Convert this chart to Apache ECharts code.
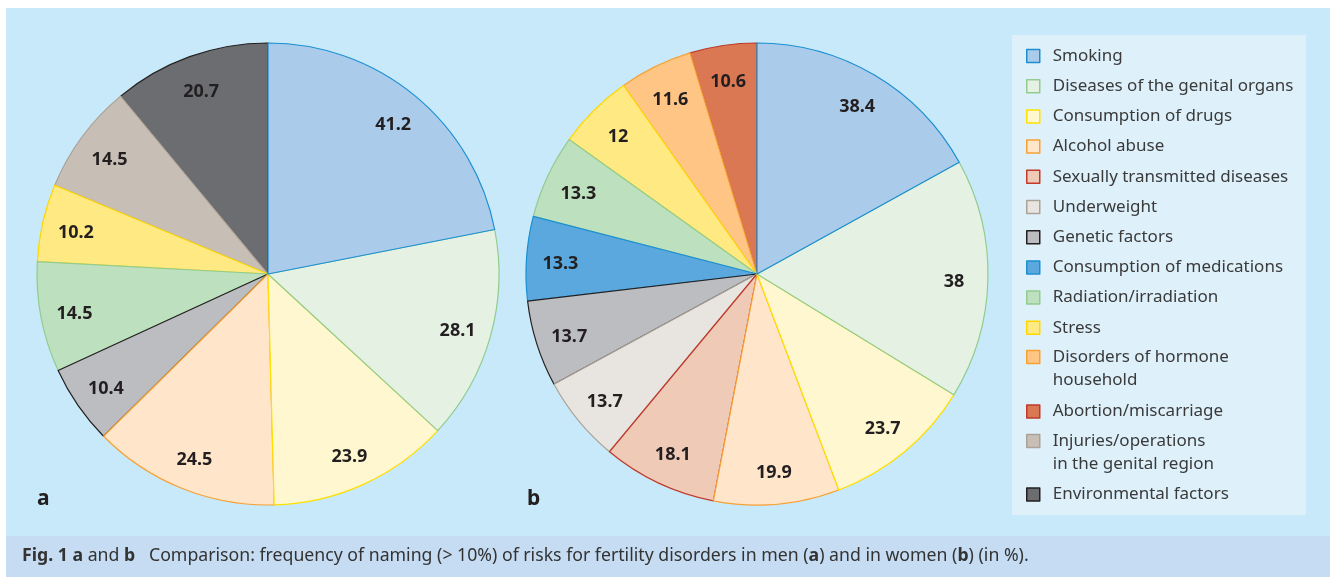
<!DOCTYPE html>
<html><head><meta charset="utf-8">
<script src="https://cdn.jsdelivr.net/npm/echarts@6/dist/echarts.min.js"></script>
<style>html,body{margin:0;padding:0;background:#ffffff;} #c{width:1330px;height:577px;}</style>
</head><body><div id="c"></div>
<script>
// ---- data ----
const categories = [
  'Smoking',
  'Diseases of the genital organs',
  'Consumption of drugs',
  'Alcohol abuse',
  'Sexually transmitted diseases',
  'Underweight',
  'Genetic factors',
  'Consumption of medications',
  'Radiation/irradiation',
  'Stress',
  'Disorders of hormone\nhousehold',
  'Abortion/miscarriage',
  'Injuries/operations\nin the genital region',
  'Environmental factors'
];
const fillColors = ['#abcbeb','#e5f2e3','#fff7cf','#ffe6cb','#eecab7','#e8e4df','#bcbdc1','#5aa8dd','#bde0be','#ffe983','#fec585','#d97853','#c7bfb5','#6c6d70'];
const borderColors = ['#1b8fd2','#92cc8f','#ffe000','#f7a133','#c0392b','#aaa298','#231f20','#1b8fd2','#92cc8f','#ffd700','#f7a133','#c0392b','#aaa298','#231f20'];

const menCategories = ['Smoking','Diseases of the genital organs','Consumption of drugs','Alcohol abuse','Genetic factors','Radiation/irradiation','Stress','Injuries/operations\nin the genital region','Environmental factors'];
const menValues = [41.2, 28.1, 23.9, 24.5, 10.4, 14.5, 10.2, 14.5, 20.7];

const womenCategories = ['Smoking','Diseases of the genital organs','Consumption of drugs','Alcohol abuse','Sexually transmitted diseases','Underweight','Genetic factors','Consumption of medications','Radiation/irradiation','Stress','Disorders of hormone\nhousehold','Abortion/miscarriage'];
const womenValues = [38.4, 38, 23.7, 19.9, 18.1, 13.7, 13.7, 13.3, 13.3, 12, 11.6, 10.6];

const panelLabels = ['a', 'b'];
const captionText = '{b|Fig. 1 a} and {b|b}   Comparison: frequency of naming (> 10%) of risks for fertility disorders in men ({b|a}) and in women ({b|b}) (in %).';

// ---- chart ----
const FONT = '"Noto Sans", "Open Sans", sans-serif';
function styleOf(name) {
  const i = categories.indexOf(name);
  return { color: fillColors[i], borderColor: borderColors[i], borderWidth: 1.2 };
}
function buildData(names, values) {
  return names.map((n, i) => ({ name: n, value: values[i], itemStyle: styleOf(n) })).reverse();
}
function pieSeries(names, values, center, R) {
  const data = buildData(names, values);
  return [{
    type: 'pie', center: center, radius: R, startAngle: 90, clockwise: false,
    data: data, label: { show: false }, labelLine: { show: false },
    emphasis: { scale: false }, avoidLabelOverlap: false, z: 2
  }, {
    type: 'pie', center: center, radius: [R * 0.68, R], startAngle: 90, clockwise: false, silent: true,
    data: data.map(d => ({ name: d.name, value: d.value, itemStyle: { color: 'rgba(0,0,0,0)', borderWidth: 0 } })),
    label: { show: true, position: 'inside', formatter: '{c}', fontFamily: FONT, fontWeight: 'bold', fontSize: 18, color: '#231f20', offset: [0, 3] },
    labelLine: { show: false }, emphasis: { disabled: true }, avoidLabelOverlap: false, z: 3, tooltip: { show: false }
  }];
}

const LEGEND_FS = 17;
function legendBlock(from, to, top, gap) {
  return {
    orient: 'vertical', left: 1026, top: top, padding: 0,
    itemWidth: 13, itemHeight: 13, itemGap: gap,
    textStyle: {
      fontFamily: FONT, fontSize: LEGEND_FS, color: '#3a3a3a', lineHeight: 23, padding: [0, 0, 0, 8],
      rich: {
        l1: { fontFamily: FONT, fontSize: LEGEND_FS, color: '#3a3a3a', lineHeight: 46 },
        l2: { fontFamily: FONT, fontSize: LEGEND_FS, color: '#3a3a3a', lineHeight: 0 }
      }
    },
    formatter: function (name) {
      if (name.indexOf('\n') < 0) return name;
      const p = name.split('\n');
      return '{l1|' + p[0] + '}\n{l2|' + p[1] + '}';
    },
    data: categories.slice(from, to).map((n, k) => ({
      name: n, icon: 'rect',
      itemStyle: { color: fillColors[from + k], borderColor: borderColors[from + k], borderWidth: 1.5 }
    }))
  };
}

const chart = echarts.init(document.getElementById('c'), null, { renderer: 'canvas' });
chart.setOption({
  backgroundColor: 'transparent',
  animation: false,
  graphic: [
    { type: 'rect', shape: { x: 6, y: 8, width: 1324, height: 528 }, style: { fill: '#c7e9f9' }, z: -10 },
    { type: 'rect', shape: { x: 6, y: 536, width: 1324, height: 41 }, style: { fill: '#c5dcf2' }, z: -10 },
    { type: 'rect', shape: { x: 1012, y: 35, width: 294, height: 480 }, style: { fill: '#def1fb' }, z: -9 }
  ],
  title: [
    { text: panelLabels[0], left: 37, top: 487, padding: 0, textStyle: { fontFamily: FONT, fontSize: 21, fontWeight: 'bold', color: '#231f20', lineHeight: 24 } },
    { text: panelLabels[1], left: 527, top: 487, padding: 0, textStyle: { fontFamily: FONT, fontSize: 21, fontWeight: 'bold', color: '#231f20', lineHeight: 24 } },
    { text: captionText, left: 22, top: 546, padding: 0,
      textStyle: { fontFamily: FONT, fontSize: 17.7, fontWeight: 'normal', color: '#333333', lineHeight: 20,
        rich: { b: { fontFamily: FONT, fontSize: 17.7, fontWeight: 'bold', color: '#333333', lineHeight: 20 } } } }
  ],
  legend: [
    legendBlock(0, 10, 44.5, 7.2),
    legendBlock(10, 12, 334, 11.5),
    legendBlock(12, 14, 418, 10.5)
  ],
  series: [].concat(
    pieSeries(menCategories, menValues, [268, 274], 231),
    pieSeries(womenCategories, womenValues, [757, 274], 231)
  )
});
</script>
</body></html>
